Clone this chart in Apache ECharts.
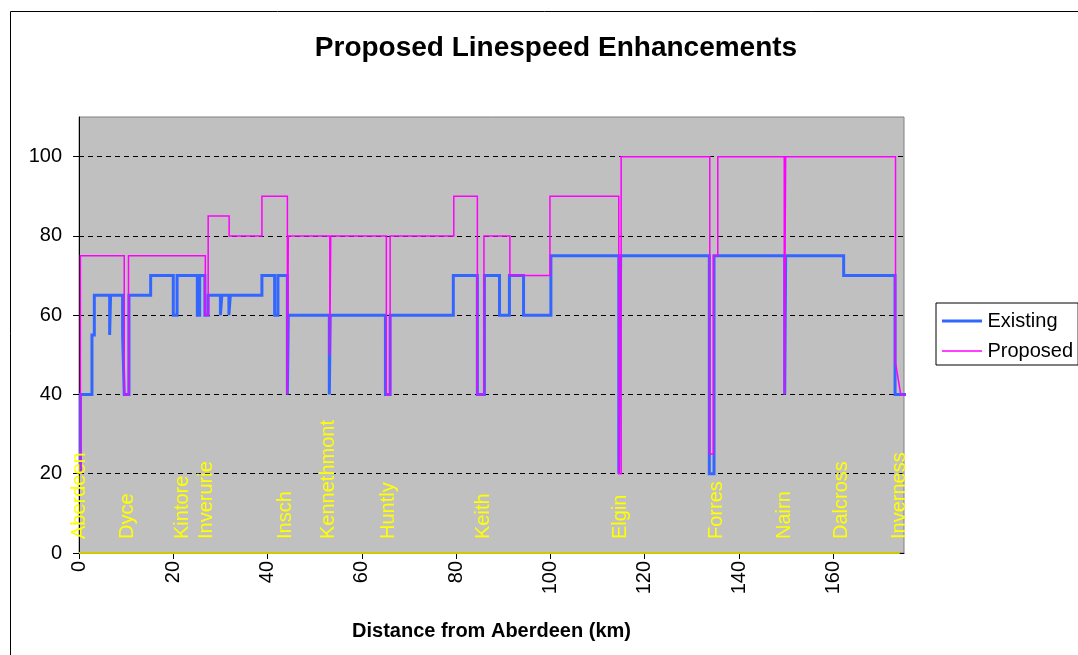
<!DOCTYPE html>
<html>
<head>
<meta charset="utf-8">
<title>Proposed Linespeed Enhancements</title>
<script src="https://cdn.jsdelivr.net/npm/echarts@6/dist/echarts.min.js"></script>
<style>
  html, body { margin: 0; padding: 0; background: #ffffff; }
  #chart { width: 1078px; height: 655px; }
</style>
</head>
<body>
<div id="chart"></div>
<script>
// Line speed profile, Aberdeen to Inverness.
// Each breakpoint: distance (km) where a new speed (mph) starts.
const existingKm    = [0.3, 0.3, 2.75, 3.25, 6.5, 6.7, 9.25, 9.6, 10.6, 15.2, 20.0, 20.8, 25.1, 25.6, 26.7, 27.4, 30.0, 30.3, 31.8, 32.1, 38.8, 41.5, 42.2, 44.2, 44.4, 53.1, 53.3, 65.0, 66.0, 79.4, 84.5, 86.0, 89.2, 91.3, 94.3, 100.1, 114.5, 114.9, 133.7, 134.7, 149.7, 149.9, 162.2, 173.1, 177.3];
const existingSpeed = [20,  40,  55,   65,   55,  65,  55,   40,  65,   70,   60,   70,   60,   70,   60,   65,   60,   65,   60,   65,   70,   60,   70,   40,   60,   40,   60,   40,   60,   70,   40,   70,   60,   70,   60,   75,    20,    75,    20,    75,    40,    75,    70,    40,    40];

const proposedKm    = [0.3, 0.3, 9.6, 10.5, 26.8, 27.4, 31.85, 38.8, 44.2, 44.4, 53.2, 53.4, 65.2, 66.0, 79.5, 84.5, 85.9, 91.4, 99.9, 114.5, 115.0, 133.8, 134.6, 135.5, 149.6, 149.9, 173.2];
const proposedSpeed = [20,  75,  40,  75,   60,   85,   80,    90,   40,   80,   50,   80,   40,   80,   90,   40,   80,   70,   90,   20,    100,   25,    75,    100,   40,    100,   48];
// run-off into Inverness after the last step
const proposedTailKm    = [174.3, 177.3];
const proposedTailSpeed = [40, 40];

// Stations along the route
const stationNames = ['Aberdeen', 'Dyce', 'Kintore', 'Inverurie', 'Insch', 'Kennethmont', 'Huntly', 'Keith', 'Elgin', 'Forres', 'Nairn', 'Dalcross', 'Inverness'];
const stationKm    = [0, 10.3, 22.0, 27.0, 43.8, 53.0, 65.7, 85.7, 114.8, 135.2, 149.7, 161.8, 174.1];

// Axis ticks
const xTicks = [0, 20, 40, 60, 80, 100, 120, 140, 160];
const yTicks = [0, 20, 40, 60, 80, 100];

// Turn breakpoints into a stepped polyline
function stepTrack(km, speed) {
  const pts = [];
  for (let i = 0; i < km.length; i++) {
    if (i > 0) pts.push([km[i], speed[i - 1]]);
    pts.push([km[i], speed[i]]);
  }
  return pts;
}

const existingLine = stepTrack(existingKm, existingSpeed);
const proposedLine = stepTrack(proposedKm, proposedSpeed)
  .concat(proposedTailKm.map((k, i) => [k, proposedTailSpeed[i]]));
const stationPoints = stationNames.map((n, i) => ({ name: n, value: [stationKm[i], 0] }));

const FONT = '"Liberation Sans", Arial, sans-serif';

// Legend keys: plain strokes, thick for Existing, thin for Proposed
const ICON_THICK = 'path://M0,0H40V0ZM0,0.5H40V3.5H0ZM0,4H40V4Z';
const ICON_THIN  = 'path://M0,0H40V0ZM0,1.25H40V2.75H0ZM0,4H40V4Z';

const chart = echarts.init(document.getElementById('chart'), null, { renderer: 'canvas' });

chart.setOption({
  animation: false,
  backgroundColor: '#ffffff',
  textStyle: { fontFamily: FONT },
  title: {
    text: 'Proposed Linespeed Enhancements',
    left: 551,
    textAlign: 'center',
    top: 29,
    textStyle: { fontFamily: FONT, fontSize: 28, fontWeight: 'bold', color: '#000' }
  },
  graphic: [{
    type: 'rect',
    shape: { x: 10.5, y: 11.5, width: 1200, height: 1000 },
    style: { fill: 'none', stroke: '#000', lineWidth: 1 },
    silent: true,
    z: -10
  }],
  legend: {
    left: 936,
    top: 303,
    orient: 'vertical',
    itemWidth: 41,
    itemHeight: 4,
    itemGap: 10,
    padding: [8, 5, 4, 6],
    borderColor: '#000',
    borderWidth: 1,
    backgroundColor: '#fff',
    data: [
      { name: 'Existing', icon: ICON_THICK },
      { name: 'Proposed', icon: ICON_THIN }
    ],
    textStyle: { fontFamily: FONT, fontSize: 20, color: '#000', lineHeight: 20 }
  },
  grid: {
    left: 79,
    top: 117,
    right: 174,
    bottom: 102,
    show: true,
    backgroundColor: '#C0C0C0',
    borderColor: '#808080',
    borderWidth: 1,
    containLabel: false
  },
  xAxis: {
    type: 'value',
    min: 0,
    max: 175,
    interval: 20,
    name: 'Distance from Aberdeen (km)',
    nameLocation: 'middle',
    nameGap: 68,
    nameTextStyle: { fontFamily: FONT, fontSize: 20, fontWeight: 'bold', color: '#000' },
    axisLine: { show: true, lineStyle: { color: '#000', width: 1 } },
    axisTick: { show: true, length: 6, inside: false, customValues: xTicks, lineStyle: { color: '#000' } },
    axisLabel: {
      rotate: 90,
      margin: 8,
      fontSize: 20,
      color: '#000',
      fontFamily: FONT,
      customValues: xTicks
    },
    splitLine: { show: false }
  },
  yAxis: {
    type: 'value',
    min: 0,
    max: 110,
    interval: 20,
    axisLine: { show: true, lineStyle: { color: '#000', width: 1 } },
    axisTick: { show: true, length: 6, inside: false, customValues: yTicks, lineStyle: { color: '#000' } },
    axisLabel: {
      margin: 17,
      fontSize: 20,
      color: '#000',
      fontFamily: FONT,
      customValues: yTicks
    },
    splitLine: {
      show: true,
      showMinLine: false,
      lineStyle: { color: '#000', width: 1, type: [5, 4] }
    }
  },
  series: [
    {
      name: 'Existing',
      type: 'line',
      data: existingLine,
      symbol: 'none',
      clip: false,
      lineStyle: { color: '#3366FF', width: 3, join: 'miter' },
      itemStyle: { color: '#3366FF' },
      z: 4
    },
    {
      name: 'Proposed',
      type: 'line',
      data: proposedLine,
      symbol: 'none',
      clip: false,
      lineStyle: { color: '#FF00FF', width: 1.5, join: 'miter' },
      itemStyle: { color: '#FF00FF' },
      z: 5
    },
    {
      name: 'Stations',
      type: 'line',
      data: stationPoints,
      symbol: 'circle',
      symbolSize: 0,
      showSymbol: true,
      lineStyle: { color: '#CCCC00', width: 2 },
      itemStyle: { color: '#CCCC00' },
      label: {
        show: true,
        formatter: p => p.name,
        position: 'top',
        distance: 14,
        rotate: 90,
        align: 'left',
        verticalAlign: 'middle',
        color: '#FFFF00',
        fontSize: 20,
        fontFamily: FONT
      },
      z: 6
    }
  ]
});
</script>
</body>
</html>
